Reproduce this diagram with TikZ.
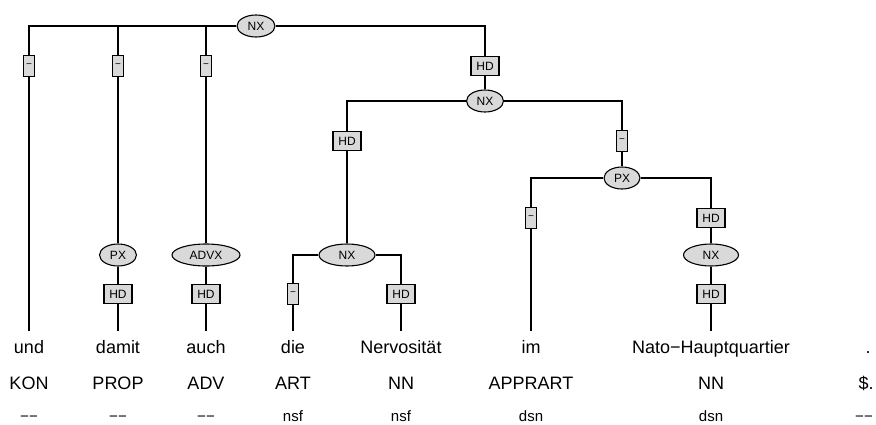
\documentclass[tikz,border=0pt]{standalone}
\usepackage{fontspec}
\setmainfont{Liberation Sans}
\usetikzlibrary{shapes.geometric,positioning}

\begin{document}
\begin{tikzpicture}[
  x=1pt, y=-1pt,
  line width=1.2pt,
  catnode/.style={ellipse, draw, fill=gray!30, line width=1.1pt, inner sep=0pt, minimum height=22pt, font=\fontsize{12}{12}\selectfont},
  fnbox/.style={rectangle, draw, fill=gray!30, line width=1.1pt, inner sep=0pt, minimum width=28pt, minimum height=19pt, font=\fontsize{12}{12}\selectfont},
  dashbox/.style={fnbox, minimum width=11pt, minimum height=21pt, font=\fontsize{10}{10}\selectfont},
  word/.style={anchor=base, inner xsep=0pt, inner ysep=8pt, text height=13pt, text depth=0pt, font=\fontsize{18}{18}\selectfont},
  postag/.style={anchor=base, inner sep=0pt, font=\fontsize{18}{18}\selectfont},
  morph/.style={anchor=base, inner sep=0pt, font=\fontsize{15}{15}\selectfont},
]
\useasboundingbox (0,0) rectangle (876,424);

\node[catnode, minimum width=38pt] (t-nx1) at (256,26) {NX};
\node[dashbox] (t-d1) at (29,66) {−};
\node[dashbox] (t-d2) at (118,66) {−};
\node[dashbox] (t-d3) at (206,66) {−};
\node[fnbox] (t-hd1) at (485,66) {HD};
\node[catnode, minimum width=37pt] (t-nx2) at (485,101) {NX};
\node[fnbox] (t-hd2) at (347,141) {HD};
\node[dashbox] (t-d4) at (622,141) {−};
\node[catnode, minimum width=36pt] (t-px1) at (622,178) {PX};
\node[dashbox] (t-d5) at (531,218) {−};
\node[fnbox] (t-hd3) at (711,218) {HD};
\node[catnode, minimum width=37pt] (t-px2) at (118,255) {PX};
\node[catnode, minimum width=68pt] (t-advx) at (206,255) {ADVX};
\node[catnode, minimum width=56pt] (t-nx3) at (347,255) {NX};
\node[catnode, minimum width=55pt] (t-nx4) at (711,255) {NX};
\node[fnbox] (t-hd4) at (118,294) {HD};
\node[fnbox] (t-hd5) at (206,294) {HD};
\node[dashbox] (t-d6) at (293,294) {−};
\node[fnbox] (t-hd6) at (401,294) {HD};
\node[fnbox] (t-hd7) at (711,294) {HD};

\node[word] (w-1) at (29,353) {und};
\node[word] (w-2) at (118,353) {damit};
\node[word] (w-3) at (206,353) {auch};
\node[word] (w-4) at (293,353) {die};
\node[word] (w-5) at (401,353) {Nervosität};
\node[word] (w-6) at (531,353) {im};
\node[word] (w-7) at (711,353) {Nato−Hauptquartier};
\node[word] (w-8) at (868,353) {.};

\node[postag] (p-1) at (29,389) {KON};
\node[postag] (p-2) at (118,389) {PROP};
\node[postag] (p-3) at (206,389) {ADV};
\node[postag] (p-4) at (293,389) {ART};
\node[postag] (p-5) at (401,389) {NN};
\node[postag] (p-6) at (531,389) {APPRART};
\node[postag] (p-7) at (711,389) {NN};
\node[postag] (p-8) at (866,389) {\$.};

\node[morph] (m-1) at (29,421) {−−};
\node[morph] (m-2) at (118,421) {−−};
\node[morph] (m-3) at (206,421) {−−};
\node[morph] (m-4) at (293,421) {nsf};
\node[morph] (m-5) at (401,421) {nsf};
\node[morph] (m-6) at (531,421) {dsn};
\node[morph] (m-7) at (711,421) {dsn};
\node[morph] (m-8) at (864,421) {−−};

\draw (t-nx1.west) -| (t-d1.north);
\draw (t-nx1.west) -| (t-d2.north);
\draw (t-nx1.west) -| (t-d3.north);
\draw (t-nx1.east) -| (t-hd1.north);
\draw (t-d1) -- (w-1);
\draw (t-d2) -- (t-px2);
\draw (t-px2) -- (t-hd4);
\draw (t-hd4) -- (w-2);
\draw (t-d3) -- (t-advx);
\draw (t-advx) -- (t-hd5);
\draw (t-hd5) -- (w-3);
\draw (t-hd1) -- (t-nx2);
\draw (t-nx2.west) -| (t-hd2.north);
\draw (t-nx2.east) -| (t-d4.north);
\draw (t-hd2) -- (t-nx3);
\draw (t-nx3.west) -| (t-d6.north);
\draw (t-nx3.east) -| (t-hd6.north);
\draw (t-d6) -- (w-4);
\draw (t-hd6) -- (w-5);
\draw (t-d4) -- (t-px1);
\draw (t-px1.west) -| (t-d5.north);
\draw (t-px1.east) -| (t-hd3.north);
\draw (t-d5) -- (w-6);
\draw (t-hd3) -- (t-nx4);
\draw (t-nx4) -- (t-hd7);
\draw (t-hd7) -- (w-7);

\end{tikzpicture}
\end{document}
